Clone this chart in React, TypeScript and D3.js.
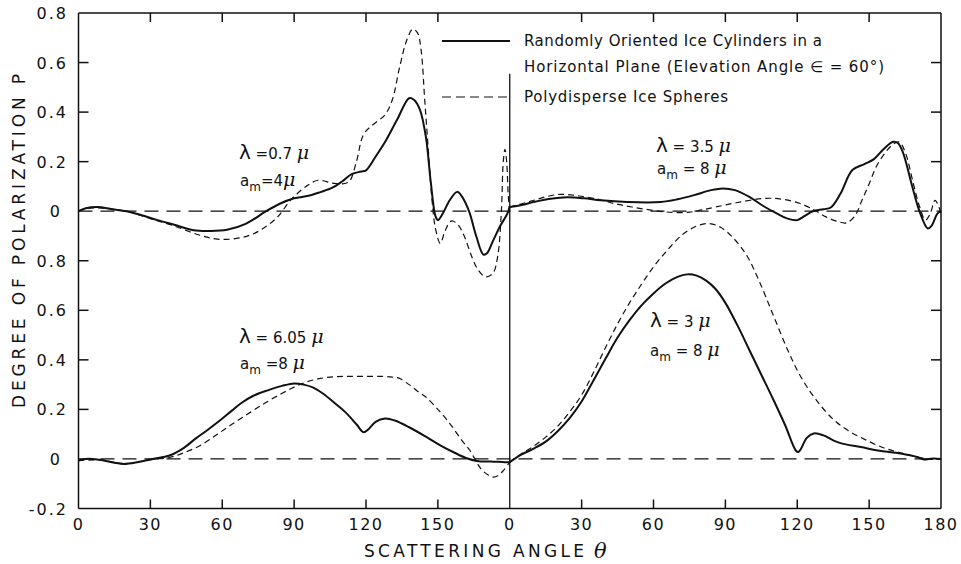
import React from "react";
import * as d3 from "d3";

// ---------- data (angle in degrees, degree of polarization P) ----------
// Top-left panel: lambda = 0.7 mu, a_m = 4 mu
const cylTopLeftDeg = [0, 3, 8, 14, 20, 26, 33, 40, 48, 55, 62, 70, 78, 84, 90, 96, 101, 106, 110, 114, 118, 120, 124, 128, 133, 138, 140, 142.5, 145, 147, 149, 150, 152, 155, 158, 160, 163, 166, 169, 170.5, 173, 176, 179, 180];
const cylTopLeftP = [0, 0.012, 0.017, 0.008, 0, -0.015, -0.036, -0.055, -0.077, -0.08, -0.075, -0.05, -0.002, 0.03, 0.052, 0.062, 0.077, 0.095, 0.12, 0.15, 0.16, 0.165, 0.22, 0.28, 0.37, 0.456, 0.45, 0.41, 0.3, 0.12, -0.02, -0.036, -0.01, 0.045, 0.078, 0.06, 0.0, -0.1, -0.175, -0.17, -0.12, -0.06, -0.01, 0.02];
const sphTopLeftDeg = [0, 5, 10, 20, 30, 40, 50, 58, 66, 72, 77, 83, 89, 95, 100, 106, 110, 113, 116, 119, 123, 128, 131, 134, 137, 139.5, 141.5, 143, 144.5, 146, 147.5, 149, 151, 153, 155.5, 158, 161, 164, 167, 170, 173, 175, 176.5, 177.3, 178, 178.7, 179.4, 180];
const sphTopLeftP = [0, 0.012, 0.012, 0, -0.03, -0.06, -0.095, -0.113, -0.11, -0.095, -0.07, -0.024, 0.05, 0.1, 0.125, 0.113, 0.11, 0.12, 0.2, 0.31, 0.35, 0.39, 0.45, 0.58, 0.69, 0.735, 0.72, 0.65, 0.45, 0.25, 0.05, -0.07, -0.13, -0.08, -0.04, -0.05, -0.1, -0.18, -0.24, -0.265, -0.25, -0.18, 0.0, 0.2, 0.25, 0.2, 0.06, 0.0];

// Top-right panel: lambda = 3.5 mu, a_m = 8 mu
const cylTopRightDeg = [0, 5, 10, 17, 24, 31, 38, 49, 63, 70, 77, 84, 89, 94, 100, 106, 112, 116, 120, 123, 126.5, 131, 134, 138, 143, 148, 152, 156, 160, 162, 164, 168, 171, 174.5, 176, 178.5, 180];
const cylTopRightP = [0.017, 0.025, 0.037, 0.05, 0.056, 0.052, 0.044, 0.037, 0.037, 0.048, 0.065, 0.085, 0.092, 0.085, 0.058, 0.02, -0.012, -0.03, -0.036, -0.02, 0, 0.008, 0.015, 0.07, 0.166, 0.19, 0.21, 0.25, 0.28, 0.275, 0.24, 0.1, 0.0, -0.07, -0.06, -0.01, 0.0];
const sphTopRightDeg = [0, 5, 10, 15, 21, 28, 36, 44, 51, 60, 68, 75, 80, 86, 95, 107, 114, 121, 127, 132, 137, 140.5, 144, 147, 150, 153, 157, 160, 162.5, 165, 168.5, 171, 173.5, 175.5, 177.5, 179, 180];
const sphTopRightP = [0.017, 0.03, 0.044, 0.058, 0.068, 0.063, 0.05, 0.03, 0.017, 0.003, -0.005, -0.004, 0.005, 0.017, 0.035, 0.052, 0.048, 0.032, 0.005, -0.023, -0.042, -0.047, -0.02, 0.044, 0.11, 0.18, 0.24, 0.27, 0.28, 0.24, 0.11, 0.02, -0.036, -0.01, 0.044, 0.02, -0.01];

// Bottom-left panel: lambda = 6.05 mu, a_m = 8 mu
const cylBottomLeftDeg = [0, 3, 6, 10, 15, 19, 25, 31, 38, 44, 49, 54, 59, 64, 68, 73, 79, 85, 90, 94, 98, 102, 107, 112, 116, 119, 121, 124, 128, 132, 138, 145, 151, 157, 162, 167, 172, 178, 180];
const cylBottomLeftP = [-0.006, 0.0, 0.0, -0.005, -0.015, -0.02, -0.012, 0, 0.014, 0.045, 0.083, 0.118, 0.155, 0.195, 0.226, 0.255, 0.277, 0.295, 0.305, 0.3, 0.288, 0.264, 0.225, 0.183, 0.14, 0.108, 0.12, 0.15, 0.163, 0.155, 0.128, 0.09, 0.055, 0.025, 0.003, -0.009, -0.01, -0.013, -0.013];
const sphBottomLeftDeg = [0, 10, 19, 25, 31, 38, 44, 51, 58, 64.5, 72, 78.6, 85, 90, 95, 101, 107, 113, 120, 127, 131, 134, 138, 142, 145, 150, 155, 160, 163.4, 166, 168, 171, 173, 175, 177.4, 180];
const sphBottomLeftP = [-0.006, -0.005, -0.02, -0.012, -0.002, 0.006, 0.025, 0.055, 0.1, 0.143, 0.19, 0.23, 0.265, 0.29, 0.31, 0.325, 0.332, 0.333, 0.333, 0.333, 0.33, 0.325, 0.3, 0.27, 0.25, 0.2, 0.143, 0.075, 0.034, -0.01, -0.04, -0.065, -0.073, -0.068, -0.046, -0.013];

// Bottom-right panel: lambda = 3 mu, a_m = 8 mu
const cylBottomRightDeg = [0, 5, 10, 15, 20, 25, 30, 35, 40, 45, 50, 55, 60, 65, 70, 74, 78, 82, 86, 90, 95, 100, 105, 110, 115, 119.4, 120.5, 121.5, 124, 126.9, 131, 135, 138.4, 146.6, 153.6, 163.2, 170, 172.8, 175, 177, 180];
const cylBottomRightP = [-0.013, 0.018, 0.042, 0.07, 0.112, 0.165, 0.232, 0.318, 0.405, 0.49, 0.56, 0.62, 0.668, 0.708, 0.735, 0.745, 0.74, 0.72, 0.685, 0.63, 0.54, 0.44, 0.34, 0.24, 0.135, 0.034, 0.028, 0.04, 0.085, 0.103, 0.095, 0.075, 0.063, 0.048, 0.034, 0.022, 0.008, -0.002, 0.0, 0.002, 0.0];
const sphBottomRightDeg = [0, 5, 10, 15, 20, 25, 30, 35, 40, 45, 50, 55, 60, 66, 72, 78, 83, 88, 93, 99, 104, 110, 116, 121, 127, 135, 142, 149, 156, 163, 172.5, 176, 180];
const sphBottomRightP = [-0.013, 0.022, 0.052, 0.088, 0.132, 0.19, 0.258, 0.35, 0.45, 0.545, 0.63, 0.705, 0.775, 0.845, 0.905, 0.94, 0.95, 0.935, 0.895, 0.82, 0.72, 0.58, 0.44, 0.34, 0.25, 0.16, 0.11, 0.075, 0.045, 0.025, 0.003, -0.002, 0];

// ---------- axis ticks ----------
const xTickPos = [0, 30, 60, 90, 120, 150, 180, 210, 240, 270, 300, 330, 360];
const xTickLabels = ["0", "30", "60", "90", "120", "150", "0", "30", "60", "90", "120", "150", "180"];
const yTickPos = [-0.2, 0, 0.2, 0.4, 0.6, 0.8, 1.0, 1.2, 1.4, 1.6, 1.8];
const yTickLabels = ["-0.2", "0", "0.2", "0.4", "0.6", "0.8", "0", "0.2", "0.4", "0.6", "0.8"];

const legendLabels = [
  "Randomly Oriented Ice Cylinders in a",
  "Horizontal Plane (Elevation Angle \u2208 = 60\u00b0)",
  "Polydisperse Ice Spheres",
];

const FONT = "'DejaVu Sans', sans-serif";

export default function App() {
  const x = d3.scaleLinear().domain([0, 360]).range([78.5, 941]);
  const y = d3.scaleLinear().domain([-0.2, 1.8]).range([508.5, 13]);
  const left = x(0), right = x(360), top = y(1.8), bottom = y(-0.2);

  const mk = (deg: number[], p: number[], dOff: number, pOff: number) => {
    const pts: [number, number][] = deg.map((d, i) => [d + dOff, p[i] + pOff]);
    return (
      d3
        .line<[number, number]>()
        .x((d) => x(d[0]))
        .y((d) => y(d[1]))
        .curve(d3.curveCatmullRom.alpha(0.5))(pts) || ""
    );
  };

  const solids = [
    mk(cylTopLeftDeg, cylTopLeftP, 0, 1),
    mk(cylTopRightDeg, cylTopRightP, 180, 1),
    mk(cylBottomLeftDeg, cylBottomLeftP, 0, 0),
    mk(cylBottomRightDeg, cylBottomRightP, 180, 0),
  ];
  const dashes = [
    mk(sphTopLeftDeg, sphTopLeftP, 0, 1),
    mk(sphTopRightDeg, sphTopRightP, 180, 1),
    mk(sphBottomLeftDeg, sphBottomLeftP, 0, 0),
    mk(sphBottomRightDeg, sphBottomRightP, 180, 0),
  ];

  const innerYTicks = yTickPos.filter((v) => v > -0.2 && v < 1.8 && Math.abs(v) > 1e-9 && Math.abs(v - 1) > 1e-9);
  const innerXTicks = xTickPos.filter((v) => v > 0 && v < 360 && v !== 180);

  const sub = (m: string) => (
    <>
      <tspan dy={5} fontSize={12}>m</tspan>
      <tspan dy={-5}>{m}</tspan>
    </>
  );
  const mu = <tspan fontStyle="italic" fontFamily="'DejaVu Serif', serif" fontSize={19}>{"\u03bc"}</tspan>;

  return (
    <svg width={961} height={564} style={{ position: "absolute", left: 0, top: 0, background: "#fff" }} fontFamily={FONT}>
      <rect x={0} y={0} width={961} height={564} fill="#fff" />
      {/* frame */}
      <g stroke="#111" strokeWidth={1.5} fill="none">
        <line x1={left} y1={top} x2={right} y2={top} />
        <line x1={left} y1={bottom} x2={right} y2={bottom} />
        <line x1={left} y1={top} x2={left} y2={bottom} />
        <line x1={right} y1={top} x2={right} y2={bottom} />
        <line x1={x(180)} y1={y(1.555)} x2={x(180)} y2={bottom} strokeWidth={1.3} />
        {innerYTicks.map((v) => (
          <g key={"yt" + v}>
            <line x1={left} x2={left + 10} y1={y(v)} y2={y(v)} />
            <line x1={right} x2={right - 10} y1={y(v)} y2={y(v)} />
          </g>
        ))}
        {innerXTicks.map((v) => (
          <g key={"xt" + v}>
            <line x1={x(v)} x2={x(v)} y1={bottom} y2={bottom - 9} />
            <line x1={x(v)} x2={x(v)} y1={top} y2={top + 9} />
          </g>
        ))}
      </g>
      {/* zero reference lines */}
      <g stroke="#111" strokeWidth={1.2} strokeDasharray="14,8" fill="none">
        <line x1={left} x2={right} y1={y(1)} y2={y(1)} />
        <line x1={left} x2={right} y1={y(0)} y2={y(0)} />
      </g>
      {/* curves */}
      <g fill="none" stroke="#111">
        {solids.map((d, i) => (
          <path key={"s" + i} d={d} strokeWidth={2} strokeLinejoin="round" />
        ))}
        {dashes.map((d, i) => (
          <path key={"d" + i} d={d} strokeWidth={1.2} strokeDasharray="6,4" />
        ))}
      </g>
      {/* y tick labels */}
      <g fontSize={16} fill="#111" letterSpacing={2}>
        {yTickPos.map((v, i) => (
          <text key={"yl" + i} x={yTickLabels[i] === "0" ? 62 : 68} y={y(v) + 6} textAnchor="end">
            {yTickLabels[i]}
          </text>
        ))}
      </g>
      {/* x tick labels */}
      <g fontSize={16} fill="#111" letterSpacing={1.5}>
        {xTickPos.map((v, i) => (
          <text key={"xl" + i} x={x(v)} y={530} textAnchor="middle">
            {xTickLabels[i]}
          </text>
        ))}
      </g>
      {/* axis titles */}
      <text x={364} y={557} fontSize={17} fill="#111" textLength={220} lengthAdjust="spacing">SCATTERING ANGLE</text>
      <text x={594} y={558} fontSize={21} fill="#111" fontStyle="italic" fontFamily="'DejaVu Serif', serif">{"\u03b8"}</text>
      <text transform="translate(25,241) rotate(-90)" fontSize={17} fill="#111" textAnchor="middle" textLength={334} lengthAdjust="spacing">
        DEGREE OF POLARIZATION P
      </text>
      {/* legend */}
      <line x1={442} x2={510} y1={41} y2={41} stroke="#111" strokeWidth={2} />
      <line x1={442} x2={510} y1={97} y2={97} stroke="#111" strokeWidth={1.2} strokeDasharray="9,5" />
      <g fontSize={15} fill="#111">
        <text x={524} y={46} textLength={298} lengthAdjust="spacing">{legendLabels[0]}</text>
        <text x={524} y={72} textLength={360} lengthAdjust="spacing">{legendLabels[1]}</text>
        <text x={524} y={102} textLength={204} lengthAdjust="spacing">{legendLabels[2]}</text>
      </g>
      {/* annotations */}
      <g fontSize={15} fill="#111">
        <text x={239} y={159}>
          <tspan fontSize={20}>{"\u03bb"}</tspan> =0.7 {mu}
        </text>
        <text x={240} y={186}>a{sub("=4")}{mu}</text>
        <text x={656} y={152}>
          <tspan fontSize={20}>{"\u03bb"}</tspan> = 3.5 {mu}
        </text>
        <text x={657} y={174}>a{sub(" = 8 ")}{mu}</text>
        <text x={239} y={343}>
          <tspan fontSize={20}>{"\u03bb"}</tspan> = 6.05 {mu}
        </text>
        <text x={240} y={369}>a{sub(" =8 ")}{mu}</text>
        <text x={650} y={327}>
          <tspan fontSize={20}>{"\u03bb"}</tspan> = 3 {mu}
        </text>
        <text x={650} y={356}>a{sub(" = 8 ")}{mu}</text>
      </g>
    </svg>
  );
}
